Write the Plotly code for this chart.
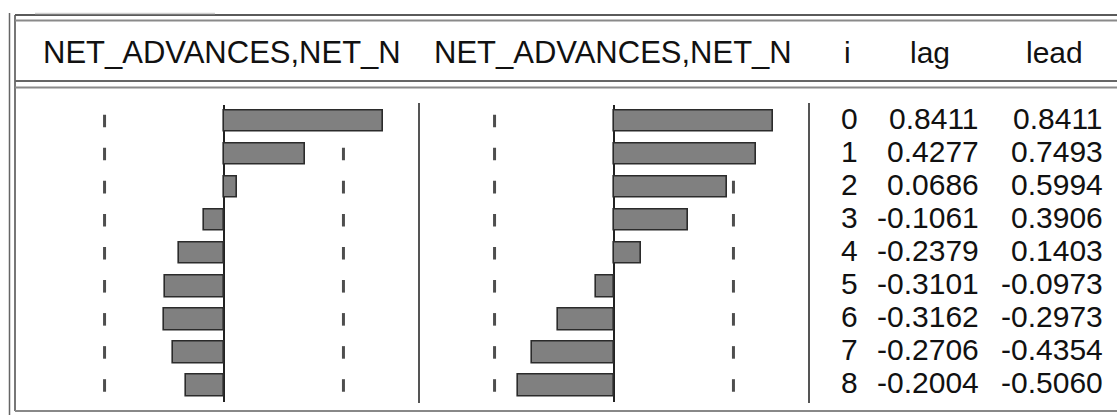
import plotly.graph_objects as go

# ---- data ----
lags_i = [0, 1, 2, 3, 4, 5, 6, 7, 8]
lag_vals = [0.8411, 0.4277, 0.0686, -0.1061, -0.2379, -0.3101, -0.3162, -0.2706, -0.2004]
lead_vals = [0.8411, 0.7493, 0.5994, 0.3906, 0.1403, -0.0973, -0.2973, -0.4354, -0.5060]
header_left = "NET_ADVANCES,NET_N"
header_right = "NET_ADVANCES,NET_N"
col_headers = ["i", "lag", "lead"]
bound = 0.632  # approx. 2 standard-error band

W, H = 1117, 415
def px(x):
    return x / W
def py(y):
    return 1 - y / H

SCALE = 189.0  # pixels per unit
L0, R0 = 224.0, 614.0  # zero positions
ldom = (14, 418)
rdom = (420, 808)

FONT = "Liberation Sans, Arial, sans-serif"
BAR_FILL = "#808080"
BAR_LINE = "#2b2b2b"

fig = go.Figure()
fig.add_trace(go.Bar(
    x=lag_vals, y=lags_i, orientation="h", xaxis="x", yaxis="y",
    width=0.65, marker=dict(color=BAR_FILL, line=dict(color=BAR_LINE, width=1.6)),
    showlegend=False, hoverinfo="skip"))
fig.add_trace(go.Bar(
    x=lead_vals, y=lags_i, orientation="h", xaxis="x2", yaxis="y",
    width=0.65, marker=dict(color=BAR_FILL, line=dict(color=BAR_LINE, width=1.6)),
    showlegend=False, hoverinfo="skip"))

shapes = []
# confidence band dashes (below bars)
for xr in ("x", "x2"):
    for i in lags_i:
        for b in (-bound, bound):
            shapes.append(dict(type="line", xref=xr, yref="y", x0=b, x1=b,
                               y0=i - 0.19, y1=i + 0.19, layer="below",
                               line=dict(color="#4e4e4e", width=3)))

def hline(y, x0, x1, color, width):
    shapes.append(dict(type="line", xref="paper", yref="paper",
                       x0=px(x0), x1=px(x1), y0=py(y), y1=py(y),
                       line=dict(color=color, width=width)))
def vline(x, y0, y1, color, width):
    shapes.append(dict(type="line", xref="paper", yref="paper",
                       x0=px(x), x1=px(x), y0=py(y0), y1=py(y1),
                       line=dict(color=color, width=width)))

# frame
vline(9.5, 13, 415, "#666666", 1.5)
vline(15, 15, 411, "#777777", 2)
hline(15, 15, 1117, "#5a5a5a", 1.8)
hline(20.5, 15, 1117, "#8a8a8a", 2)
hline(81, 15, 1117, "#666666", 2)
hline(87.5, 15, 1117, "#8a8a8a", 2)
hline(411, 15, 1117, "#888888", 2.2)
hline(13.5, 35, 215, "#cfcfcf", 1.5)
# column separators
vline(419, 103, 403, "#555555", 2)
vline(809, 103, 403, "#555555", 2)

annotations = []
# headers
annotations.append(dict(text=header_left, xref="paper", yref="paper", x=px(41), y=py(53),
                        xanchor="left", yanchor="middle", showarrow=False,
                        font=dict(family=FONT, size=31, color="#111111")))
annotations.append(dict(text=header_right, xref="paper", yref="paper", x=px(432), y=py(53),
                        xanchor="left", yanchor="middle", showarrow=False,
                        font=dict(family=FONT, size=31, color="#111111")))
for txt, xc in zip(col_headers, (847, 930, 1054)):
    annotations.append(dict(text=txt, xref="paper", yref="paper", x=px(xc), y=py(53),
                            xanchor="center", yanchor="middle", showarrow=False,
                            font=dict(family=FONT, size=30, color="#111111")))
# table values
for i, lg, ld in zip(lags_i, lag_vals, lead_vals):
    for txt, xp, anc in ((str(i), 849, "center"), (f"{lg:.4f}", 981, "right"), (f"{ld:.4f}", 1105, "right")):
        annotations.append(dict(text=txt, xref="paper", yref="y", x=px(xp), y=i, yshift=3,
                                xanchor=anc, yanchor="middle", showarrow=False,
                                font=dict(family=FONT, size=30, color="#111111")))

axis_common = dict(showgrid=False, showticklabels=False, ticks="", showline=False,
                   zeroline=True, zerolinecolor="#222222", zerolinewidth=1.5, fixedrange=True)

fig.update_layout(
    width=W, height=H, autosize=False,
    margin=dict(l=0, r=0, t=0, b=0, pad=0),
    paper_bgcolor="white", plot_bgcolor="rgba(0,0,0,0)",
    bargap=0,
    xaxis=dict(domain=[px(ldom[0]), px(ldom[1])],
               range=[(ldom[0] - L0) / SCALE, (ldom[1] - L0) / SCALE],
               anchor="y", **axis_common),
    xaxis2=dict(domain=[px(rdom[0]), px(rdom[1])],
                range=[(rdom[0] - R0) / SCALE, (rdom[1] - R0) / SCALE],
                anchor="y", **axis_common),
    yaxis=dict(domain=[py(402), py(104.5)], range=[8.5, -0.5],
               showgrid=False, showticklabels=False, ticks="", showline=False,
               zeroline=False, fixedrange=True),
    shapes=shapes,
    annotations=annotations,
    showlegend=False,
)

fig.write_html("out.html", config={"displayModeBar": False})
